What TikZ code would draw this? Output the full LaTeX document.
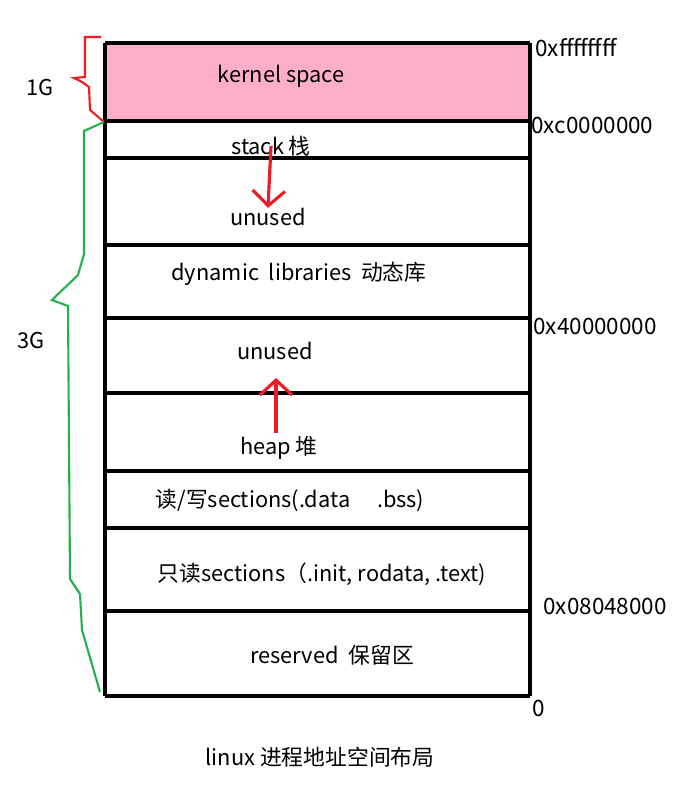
\documentclass[tikz,border=0pt]{standalone}
\usepackage{fontspec}
\setmainfont{Noto Sans CJK SC}
\usetikzlibrary{arrows.meta}
\definecolor{kernelpink}{RGB}{255,174,201}
\definecolor{bracered}{RGB}{237,28,36}
\definecolor{bracegreen}{RGB}{34,177,76}

\begin{document}
\begin{tikzpicture}[x=0.02cm,y=-0.02cm,
  lbl/.style={font=\fontsize{12.4}{14}\selectfont, inner sep=0pt},
  addr/.style={lbl, font=\fontsize{12.8}{14}\selectfont, anchor=west},
  seg/.style={draw, line width=2pt},
  growarrow/.style={draw=bracered, line width=1.8pt, -{Straight Barb[length=3mm, width=6.5mm]}}]
  \useasboundingbox (0,0) rectangle (686,786);
  % kernel part
  \fill[kernelpink] (105,43) rectangle (530,121);
  \foreach \y in {43,121,158,245,318,393,471,528,611,696}
    \draw[seg] (105,\y) -- (530,\y);
  \draw[seg] (105,43) -- (105,696);
  \draw[seg] (530,43) -- (530,696);
  % segments
  \node[lbl] (kernel) at (281,76) {kernel space};
  \node[lbl] (stack) at (271,146) {stack 栈};
  \node[lbl] (unused1) at (268,217) {unused};
  \node[lbl] (dynlib) at (299,274) {dynamic\ \ libraries\ \ 动态库};
  \node[lbl] (unused2) at (275,351) {unused};
  \node[lbl] (heap) at (279,448) {heap 堆};
  \node[lbl] (rw) at (290,500) {读/写sections(.data\quad\ .bss)};
  \node[lbl] (ro) at (322,574) {只读sections（.init, rodata, .text)};
  \node[lbl] (reserved) at (332,655) {reserved\ \ 保留区};
  % addresses
  \node[addr] (addrtop) at (535,48) {0xffffffff};
  \node[addr] (addrkern) at (531,125) {0xc0000000};
  \node[addr] (addrlib) at (533,326) {0x40000000};
  \node[addr] (addrtext) at (543,606) {0x08048000};
  \node[addr] (addrzero) at (532,708) {0};
  \node[lbl] (onegig) at (40,88) {1G};
  \node[lbl] (threegig) at (31,341) {3G};
  \node[lbl] (title) at (320,757) {linux 进程地址空间布局};
  % growth arrows
  \draw[growarrow] (stack.center) -- (unused1.north);
  \coordinate (heaptail) at (276,433);
  \coordinate (heaptip) at (276,378);
  \draw[growarrow] (heaptail) -- (heaptip);
  % braces
  \draw[bracered, line width=1.2pt] (101,37) -- (85,37) -- (85,77) -- (74,78)
    -- (82,82) -- (89,87) -- (90,110) -- (104,122);
  \draw[bracegreen, line width=1.2pt] (104,122) -- (84,131) -- (84,254) -- (78,275)
    -- (52,300) -- (68,306) -- (70,579) -- (80,594) -- (82,630) -- (100,692);
\end{tikzpicture}
\end{document}
